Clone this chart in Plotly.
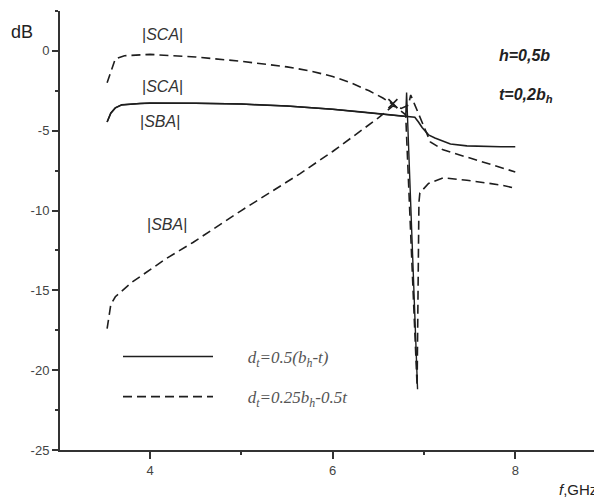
import plotly.graph_objects as go

# ---- data (f in GHz, level in dB) ----
solid_sca_f = [3.53, 3.57, 3.62, 3.69, 3.89, 4.0, 4.5, 5.0, 5.5, 6.0, 6.3, 6.6, 6.8, 6.9, 6.94, 6.98, 7.05, 7.12, 7.29, 7.47, 7.84, 8.0]
solid_sca_db = [-4.45, -3.9, -3.57, -3.38, -3.29, -3.27, -3.28, -3.33, -3.45, -3.65, -3.82, -4.0, -4.1, -4.15, -4.45, -4.8, -5.26, -5.45, -5.83, -5.95, -6.0, -6.0]

solid_sba_f = [3.53, 3.57, 3.62, 3.69, 3.89, 4.0, 4.5, 5.0, 5.5, 6.0, 6.3, 6.6, 6.8, 6.81, 6.93]
solid_sba_db = [-4.45, -3.9, -3.57, -3.38, -3.29, -3.27, -3.28, -3.33, -3.45, -3.65, -3.82, -4.0, -4.1, -2.6, -21.2]

dash_sca_f = [3.53, 3.62, 3.72, 3.9, 4.0, 4.5, 5.0, 5.5, 5.75, 6.0, 6.2, 6.4, 6.55, 6.66, 6.75, 6.8, 6.925, 6.94, 6.945, 6.955, 7.05, 7.21, 7.47, 7.84, 8.0]
dash_sca_db = [-2.0, -0.5, -0.3, -0.22, -0.22, -0.38, -0.65, -1.0, -1.25, -1.6, -2.0, -2.5, -2.95, -3.35, -3.75, -4.0, -21.0, -12.6, -9.5, -8.9, -8.3, -7.95, -8.1, -8.4, -8.6]

dash_sba_f = [3.53, 3.57, 3.62, 3.8, 4.18, 4.47, 5.0, 5.64, 6.0, 6.5, 6.66, 6.75, 6.83, 6.855, 6.9, 6.94, 6.99, 7.07, 7.21, 7.47, 7.84, 8.0]
dash_sba_db = [-17.4, -15.9, -15.4, -14.5, -13.0, -12.0, -10.0, -7.7, -6.3, -4.2, -3.45, -3.6, -3.4, -2.76, -3.38, -3.9, -4.6, -5.7, -6.2, -6.65, -7.33, -7.58]

cross_f = [6.66]
cross_db = [-3.3]

y_tickvals = [0, -5, -10, -15, -20, -25]
y_ticktext = ["0", "-5", "-10", "-15", "-20", "-25"]
x_tickvals = [4, 6, 8]
x_ticktext = ["4", "6", "8"]

PAD = "\u00a0" * 7
legend_solid = PAD + "d<sub>t</sub>=0.5(b<sub>h</sub>-t)"
legend_dash = PAD + "d<sub>t</sub>=0.25b<sub>h</sub>-0.5t"

LINE = "#1e1e1e"
DASH = "9px,5px"

fig = go.Figure()
fig.add_trace(go.Scatter(x=solid_sca_f, y=solid_sca_db, mode="lines", name=legend_solid,
                         legendgroup="a", line=dict(color=LINE, width=1.6)))
fig.add_trace(go.Scatter(x=solid_sba_f, y=solid_sba_db, mode="lines", showlegend=False,
                         legendgroup="a", line=dict(color=LINE, width=1.4)))
fig.add_trace(go.Scatter(x=dash_sca_f, y=dash_sca_db, mode="lines", name=legend_dash,
                         legendgroup="b", line=dict(color=LINE, width=1.6, dash=DASH)))
fig.add_trace(go.Scatter(x=dash_sba_f, y=dash_sba_db, mode="lines", showlegend=False,
                         legendgroup="b", line=dict(color=LINE, width=1.6, dash=DASH)))
fig.add_trace(go.Scatter(x=cross_f, y=cross_db, mode="markers", showlegend=False,
                         marker=dict(symbol="x-thin", size=9, line=dict(color=LINE, width=1.6))))

lab_font = dict(family="Liberation Sans, Arial", size=16, color="#333")
annots = [
    dict(x=4.14, y=1.0, text="|<i>SCA</i>|"),
    dict(x=4.14, y=-2.25, text="|<i>SCA</i>|"),
    dict(x=4.11, y=-4.45, text="|<i>SBA</i>|"),
    dict(x=4.19, y=-10.85, text="|<i>SBA</i>|"),
]
ann = []
for a in annots:
    ann.append(dict(x=a["x"], y=a["y"], xref="x", yref="y", text=a["text"], showarrow=False,
                    font=lab_font, xanchor="center", yanchor="middle"))
bold_font = dict(family="Liberation Sans, Arial", size=16, color="#222")
ann.append(dict(x=8.10, y=-0.31, xref="x", yref="y", text="<b><i>h=0,5b</i></b>", showarrow=False,
                font=bold_font, xanchor="center", yanchor="middle"))
ann.append(dict(x=8.12, y=-2.8, xref="x", yref="y", text="<b><i>t=0,2b<sub>h</sub></i></b>", showarrow=False,
                font=bold_font, xanchor="center", yanchor="middle"))
ann.append(dict(x=(22 - 60) / 542, y=(450 - 32) / 439, xref="paper", yref="paper", text="dB", showarrow=False,
                font=dict(family="Liberation Sans, Arial", size=18, color="#222"), xanchor="center", yanchor="middle"))
ann.append(dict(x=(557 - 60) / 542, y=-(489 - 450) / 439, xref="paper", yref="paper", text="<i>f</i>,GHz",
                showarrow=False, font=dict(family="Liberation Sans, Arial", size=15, color="#222"),
                xanchor="left", yanchor="middle"))

fig.update_layout(
    width=594, height=491,
    margin=dict(l=52, r=0, t=3, b=49),
    paper_bgcolor="white", plot_bgcolor="white",
    annotations=ann,
    showlegend=True,
    legend=dict(x=(118 - 60) / 542, y=(450 - 339) / 439, xanchor="left", yanchor="top",
                bgcolor="rgba(0,0,0,0)", borderwidth=0, itemwidth=90, tracegroupgap=15,
                font=dict(family="Liberation Serif, Times New Roman", size=17, color="#555", style="italic")),
    xaxis=dict(range=[3.014, 8.95], showgrid=False, zeroline=False, showline=True, linecolor="#333",
               linewidth=2, ticks="outside", ticklen=7, tickwidth=1.5, tickcolor="#333",
               tickvals=x_tickvals, ticktext=x_ticktext,
               tickfont=dict(family="Liberation Sans, Arial", size=13, color="#444"),
               minor=dict(ticks="outside", ticklen=3, tickwidth=1.5, tickcolor="#333", dtick=1, tick0=3)),
    yaxis=dict(range=[-25, 2.5], showgrid=False, zeroline=False, showline=True, linecolor="#333",
               linewidth=2, ticks="outside", ticklen=6, tickwidth=1.5, tickcolor="#333",
               tickvals=y_tickvals, ticktext=y_ticktext,
               tickfont=dict(family="Liberation Sans, Arial", size=13, color="#444"),
               minor=dict(ticks="outside", ticklen=3, tickwidth=1.5, tickcolor="#333", dtick=2.5, tick0=0)),
)

fig.write_html("out.html")
